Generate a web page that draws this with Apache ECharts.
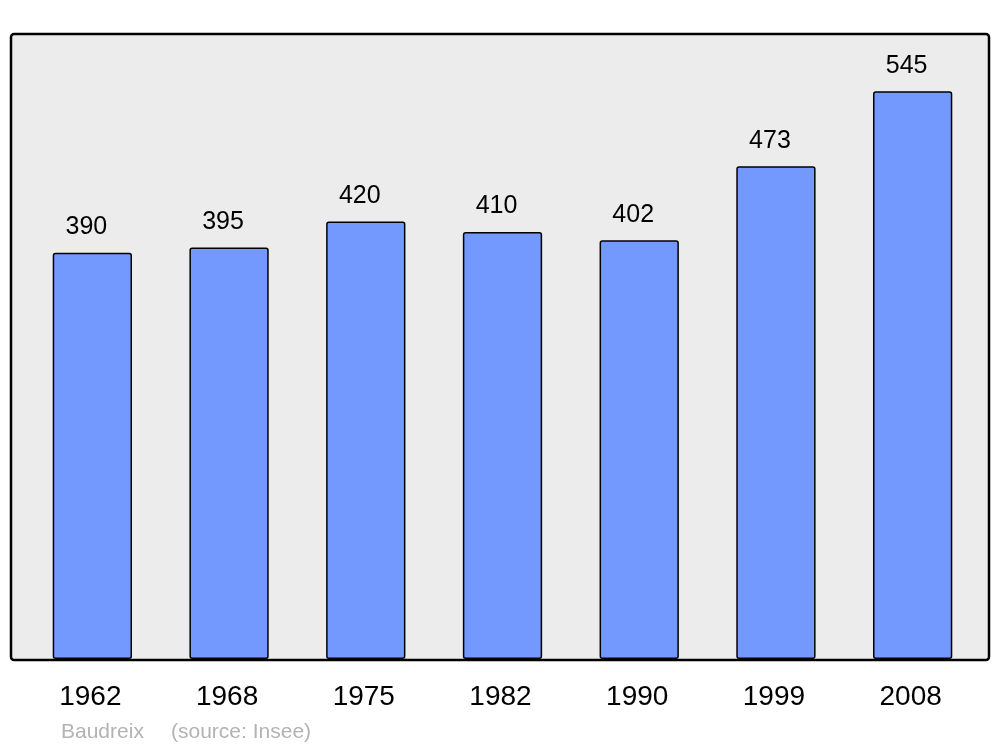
<!DOCTYPE html>
<html>
<head>
<meta charset="utf-8">
<script src="https://cdn.jsdelivr.net/npm/echarts@6/dist/echarts.min.js"></script>
<style>
  html, body { margin: 0; padding: 0; background: #fff; }
  #chart { width: 1000px; height: 747px; }
</style>
</head>
<body>
<div id="chart"></div>
<script>
var years = ['1962', '1968', '1975', '1982', '1990', '1999', '2008']
var population = [390, 395, 420, 410, 402, 473, 545]
var commune = 'Baudreix'
var source = '(source: Insee)'

var chart = echarts.init(document.getElementById('chart'))
chart.setOption({
  animation: false,
  textStyle: { fontFamily: 'Liberation Sans, Arial, sans-serif' },
  grid: { left: 24, right: 19, top: 34, bottom: 88 },
  graphic: [
    {
      type: 'rect',
      z: -10,
      shape: { x: 11, y: 34, width: 978, height: 626, r: 3 },
      style: { fill: '#ececec', stroke: '#000', lineWidth: 2.5 }
    },
    {
      type: 'text', left: 61, top: 722,
      style: { text: commune, fill: '#b3b3b3', font: '21px Liberation Sans' }
    },
    {
      type: 'text', left: 171, top: 722,
      style: { text: source, fill: '#b3b3b3', font: '21px Liberation Sans' }
    }
  ],
  xAxis: {
    type: 'category',
    data: years,
    axisLine: { show: false },
    axisTick: { show: false },
    axisLabel: { color: '#000', fontSize: 28, margin: 24, padding: [0, 4, 0, 0] }
  },
  yAxis: {
    type: 'value',
    min: 0,
    max: 600,
    show: false,
    splitLine: { show: false }
  },
  series: [
    {
      type: 'bar',
      data: population,
      barWidth: '58%',
      itemStyle: {
        color: '#7399ff',
        borderColor: '#000',
        borderWidth: 1.5,
        borderRadius: 2
      },
      label: {
        show: true,
        position: 'top',
        distance: 13,
        offset: [-6, 0],
        color: '#000',
        fontSize: 25
      }
    }
  ]
})
</script>
</body>
</html>
